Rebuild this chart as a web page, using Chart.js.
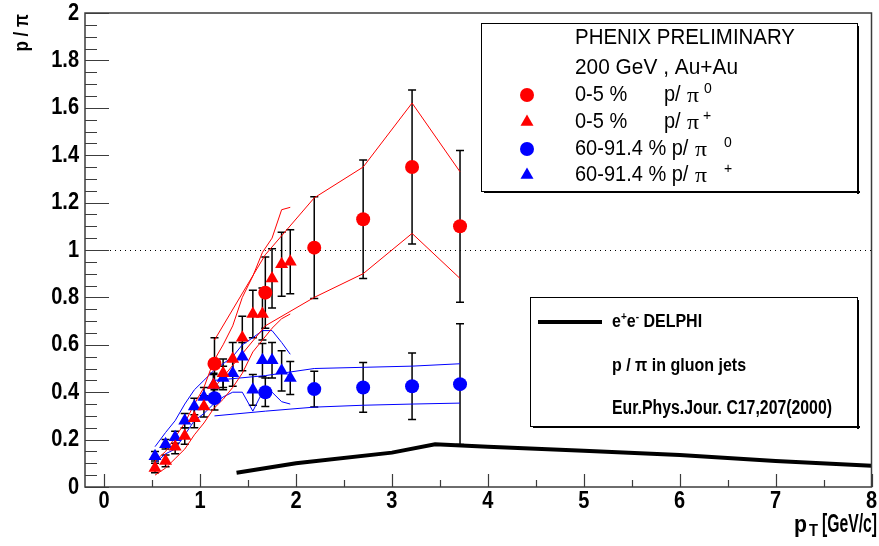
<!DOCTYPE html>
<html>
<head>
<meta charset="utf-8">
<script src="https://cdn.jsdelivr.net/npm/chart.js@4.4.0/dist/chart.umd.min.js"></script>
<style>
  html, body { margin: 0; padding: 0; background: #fff; }
</style>
</head>
<body>
<canvas id="chart" width="879" height="546"></canvas>
<script>
// pT bins
const triPt = [0.53, 0.64, 0.74, 0.84, 0.94, 1.04, 1.14, 1.24, 1.34, 1.44, 1.55, 1.65, 1.75, 1.85, 1.94];
const circPt = [1.15, 1.68, 2.19, 2.70, 3.21, 3.71];

// 0-5 % p/pi+
const redTri = [0.08, 0.11, 0.17, 0.215, 0.29, 0.34, 0.43, 0.48, 0.54, 0.63, 0.73, 0.73, 0.88, 0.94, 0.95];
const redTriErr = [0.02, 0.025, 0.03, 0.035, 0.04, 0.045, 0.05, 0.06, 0.07, 0.09, 0.1, 0.11, 0.125, 0.135, 0.135];
const redTriHi = [0.11, 0.15, 0.21, 0.27, 0.35, 0.42, 0.53, 0.60, 0.68, 0.80, 0.89, 0.99, 1.05, 1.17, 1.18];
const redTriLo = [0.05, 0.08, 0.12, 0.16, 0.22, 0.27, 0.33, 0.37, 0.42, 0.48, 0.57, 0.62, 0.67, 0.71, 0.73];

// 60-91.4 % p/pi+
const blueTri = [0.13, 0.18, 0.21, 0.28, 0.34, 0.38, 0.43, 0.46, 0.48, 0.55, 0.41, 0.535, 0.535, 0.49, 0.46];
const blueTriErr = [0.02, 0.02, 0.025, 0.03, 0.035, 0.04, 0.045, 0.05, 0.055, 0.06, 0.065, 0.07, 0.075, 0.085, 0.07];
const blueTriHi = [0.17, 0.23, 0.28, 0.35, 0.41, 0.45, 0.49, 0.52, 0.55, 0.60, 0.63, 0.66, 0.66, 0.61, 0.56];
const blueTriLo = [0.10, 0.14, 0.16, 0.22, 0.28, 0.31, 0.35, 0.38, 0.40, 0.40, 0.32, 0.40, 0.40, 0.36, 0.35];

// 0-5 % p/pi0
const redCirc = [0.52, 0.82, 1.01, 1.13, 1.35, 1.10];
const redCircErr = [0.11, 0.15, 0.215, 0.25, 0.325, 0.32];
const redCircHi = [0.62, 0.98, 1.22, 1.35, 1.62, 1.33];
const redCircLo = [0.42, 0.68, 0.80, 0.90, 1.07, 0.88];

// 60-91.4 % p/pi0
const blueCirc = [0.375, 0.40, 0.413, 0.42, 0.425, 0.434];
const blueCircErr = [0.05, 0.06, 0.075, 0.105, 0.14, 0.255];
const blueCircHi = [0.45, 0.47, 0.50, 0.505, 0.51, 0.52];
const blueCircLo = [0.30, 0.32, 0.337, 0.345, 0.35, 0.354];

// e+e- DELPHI, gluon jets
const delphiPt = [1.38, 2, 3, 3.45, 4, 5, 6, 7, 8];
const delphi = [0.06, 0.10, 0.145, 0.18, 0.17, 0.153, 0.135, 0.11, 0.09];

const xTicks = [0, 1, 2, 3, 4, 5, 6, 7, 8];
const yTicks = [0, 0.2, 0.4, 0.6, 0.8, 1, 1.2, 1.4, 1.6, 1.8, 2];

const RED = "#ff0000";
const BLUE = "#0000ff";
const FRAME = "#3c3c3c";

function pts(xs, ys) {
  return xs.map((x, i) => ({ x, y: ys[i] }));
}

function markers(xs, ys, errs, color, style) {
  return {
    data: pts(xs, ys),
    errors: errs,
    showLine: false,
    pointStyle: style,
    pointRadius: style === "circle" ? 7 : 7.5,
    backgroundColor: color,
    borderColor: color,
    borderWidth: 0,
    order: 0,
  };
}

function band(xs, ys, color) {
  return {
    data: pts(xs, ys),
    showLine: true,
    pointRadius: 0,
    borderColor: color,
    borderWidth: 1,
    fill: false,
    order: 1,
  };
}

// text helper: ROOT fonts come out tall and narrow, so allow a target width
function text(ctx, str, x, y, size, opts = {}) {
  ctx.save();
  ctx.font = `${opts.bold ? "bold " : ""}${size}px ${opts.family || '"Liberation Sans", Arial, sans-serif'}`;
  ctx.fillStyle = opts.color || "#000";
  ctx.textAlign = opts.align || "left";
  ctx.textBaseline = "middle";
  const raw = ctx.measureText(str).width;
  const sx = opts.fit ? opts.fit / raw : (opts.sx || 1);
  ctx.translate(x, y);
  if (opts.rotate) ctx.rotate(opts.rotate);
  ctx.scale(sx, opts.sy || 1);
  ctx.fillText(str, 0, 0);
  ctx.restore();
  return raw * sx;
}

function marker(ctx, x, y, style, color) {
  ctx.save();
  ctx.fillStyle = color;
  ctx.beginPath();
  if (style === "circle") {
    ctx.arc(x, y, 7, 0, Math.PI * 2);
  } else {
    const r = 7.5;
    ctx.moveTo(x, y - r);
    ctx.lineTo(x + r * 0.866, y + r * 0.5);
    ctx.lineTo(x - r * 0.866, y + r * 0.5);
    ctx.closePath();
  }
  ctx.fill();
  ctx.restore();
}

function pave(ctx, l, t, r, b) {
  ctx.save();
  ctx.fillStyle = "#fff";
  ctx.fillRect(l, t, r - l, b - t);
  ctx.strokeStyle = "#000";
  ctx.lineWidth = 1;
  ctx.strokeRect(l + 0.5, t + 0.5, r - l, b - t);
  ctx.fillStyle = "#000";
  ctx.fillRect(r, t + 3, 2, b - t);
  ctx.fillRect(l + 3, b, r - l, 2);
  ctx.restore();
}

const rootStyle = {
  id: "rootStyle",
  beforeDatasetsDraw(chart) {
    const { ctx, chartArea: a, scales: { x, y } } = chart;
    ctx.save();
    // dotted reference line at 1
    ctx.strokeStyle = "#000";
    ctx.lineWidth = 1;
    ctx.setLineDash([1, 4]);
    const y1 = Math.round(y.getPixelForValue(1)) + 0.5;
    ctx.beginPath();
    ctx.moveTo(a.left, y1);
    ctx.lineTo(a.right, y1);
    ctx.stroke();
    ctx.setLineDash([]);

    // statistical error bars
    ctx.strokeStyle = "#000";
    ctx.lineWidth = 1.5;
    chart.data.datasets.forEach((ds) => {
      if (!ds.errors) return;
      ds.data.forEach((p, i) => {
        const px = x.getPixelForValue(p.x);
        const top = y.getPixelForValue(p.y + ds.errors[i]);
        const bot = y.getPixelForValue(Math.max(0, p.y - ds.errors[i]));
        ctx.beginPath();
        ctx.moveTo(px, top);
        ctx.lineTo(px, bot);
        ctx.moveTo(px - 4, top);
        ctx.lineTo(px + 4, top);
        ctx.moveTo(px - 4, bot);
        ctx.lineTo(px + 4, bot);
        ctx.stroke();
      });
    });
    ctx.restore();
  },
  afterDraw(chart) {
    const { ctx, chartArea: a, scales: { x, y } } = chart;
    ctx.save();

    // frame
    ctx.strokeStyle = FRAME;
    ctx.lineWidth = 1.5;
    ctx.strokeRect(a.left, a.top, a.right - a.left, a.bottom - a.top);

    // x ticks (inside, from the bottom edge)
    ctx.lineWidth = 1.2;
    ctx.beginPath();
    for (let v = 0; v <= 8; v += 0.5) {
      const px = Math.round(x.getPixelForValue(v)) + 0.5;
      const len = Number.isInteger(v) ? 13 : 7;
      ctx.moveTo(px, a.bottom);
      ctx.lineTo(px, a.bottom - len);
    }
    // y ticks (inside, from the left edge)
    for (let k = 0; k <= 40; k++) {
      const v = k * 0.05;
      const py = Math.round(y.getPixelForValue(v)) + 0.5;
      const len = k % 4 === 0 ? 24 : 12;
      ctx.moveTo(a.left, py);
      ctx.lineTo(a.left + len, py);
    }
    ctx.stroke();
    ctx.restore();

    // tick labels
    xTicks.forEach((v) => {
      text(ctx, String(v), x.getPixelForValue(v), 501, 20, { bold: true, align: "center", sy: 1.2 });
    });
    yTicks.forEach((v) => {
      const label = Number.isInteger(v) ? String(v) : v.toFixed(1);
      text(ctx, label, 79, y.getPixelForValue(v), 20, { bold: true, align: "right", sy: 1.2 });
    });

    // axis titles
    text(ctx, "p", 794, 525, 19, { bold: true, sy: 1.3, fit: 13 });
    text(ctx, "T", 809, 532, 12, { bold: true, sy: 1.3, fit: 9 });
    text(ctx, "[GeV/c]", 877, 525, 19, { bold: true, align: "right", sy: 1.35, fit: 55 });
    text(ctx, "p / \u03c0", 22, 14, 17, { bold: true, align: "right", rotate: -Math.PI / 2, sy: 1.2 });

    // legend 1
    pave(ctx, 481, 23, 857, 191);
    text(ctx, "PHENIX PRELIMINARY", 575, 38, 20, { sy: 1.12, fit: 220 });
    text(ctx, "200 GeV , Au+Au", 575, 68, 20, { sy: 1.12, fit: 163 });
    const rows = [
      { y: 95, style: "circle", color: RED, parts: [["0-5 %", 575], ["p/", 664]], pi: 687, sup: "0", sx: 704 },
      { y: 122, style: "triangle", color: RED, parts: [["0-5 %", 575], ["p/", 664]], pi: 687, sup: "+", sx: 703 },
      { y: 149, style: "circle", color: BLUE, parts: [["60-91.4 % p/", 575]], pi: 695, sup: "0", sx: 724 },
      { y: 175, style: "triangle", color: BLUE, parts: [["60-91.4 % p/", 575]], pi: 695, sup: "+", sx: 724 },
    ];
    rows.forEach((r) => {
      marker(ctx, 527, r.y, r.style, r.color);
      r.parts.forEach(([s, px]) => text(ctx, s, px, r.y, 20, { sy: 1.12 }));
      text(ctx, "\u03c0", r.pi, r.y + 1, 22, { family: '"Liberation Serif", serif', fit: 12 });
      text(ctx, r.sup, r.sx, r.y - 6, 14, { sy: 1.1 });
    });

    // legend 2
    pave(ctx, 530, 297, 857, 426);
    ctx.save();
    ctx.strokeStyle = "#000";
    ctx.lineWidth = 4;
    ctx.beginPath();
    ctx.moveTo(538, 322);
    ctx.lineTo(602, 322);
    ctx.stroke();
    ctx.restore();
    let cx = 612;
    cx += text(ctx, "e", cx, 322, 16, { bold: true, sy: 1.2 });
    cx += text(ctx, "+", cx, 317, 10, { bold: true });
    cx += text(ctx, "e", cx, 322, 16, { bold: true, sy: 1.2 });
    cx += text(ctx, "-", cx, 317, 10, { bold: true });
    text(ctx, " DELPHI", cx, 322, 16, { bold: true, sy: 1.2 });
    text(ctx, "p / \u03c0 in gluon jets", 612, 366, 16, { bold: true, sy: 1.2 });
    text(ctx, "Eur.Phys.Jour. C17,207(2000)", 612, 409, 16.5, { bold: true, sy: 1.2, fit: 220 });
  },
};

const datasets = [
  markers(circPt, redCirc, redCircErr, RED, "circle"),
  markers(triPt, redTri, redTriErr, RED, "triangle"),
  markers(circPt, blueCirc, blueCircErr, BLUE, "circle"),
  markers(triPt, blueTri, blueTriErr, BLUE, "triangle"),
  band(circPt, redCircHi, RED),
  band(circPt, redCircLo, RED),
  band(triPt, redTriHi, RED),
  band(triPt, redTriLo, RED),
  band(circPt, blueCircHi, BLUE),
  band(circPt, blueCircLo, BLUE),
  band(triPt, blueTriHi, BLUE),
  band(triPt, blueTriLo, BLUE),
  {
    data: pts(delphiPt, delphi),
    showLine: true,
    pointRadius: 0,
    borderColor: "#000",
    borderWidth: 4,
    fill: false,
    order: 2,
  },
];

new Chart(document.getElementById("chart"), {
  type: "scatter",
  data: { datasets },
  options: {
    responsive: false,
    animation: false,
    layout: { padding: { left: 85, right: 3, top: 13, bottom: 59 } },
    plugins: { legend: { display: false }, tooltip: { enabled: false } },
    scales: {
      x: { type: "linear", min: -0.2, max: 8, display: false },
      y: { type: "linear", min: 0, max: 2, display: false },
    },
  },
  plugins: [rootStyle],
});
</script>
</body>
</html>
